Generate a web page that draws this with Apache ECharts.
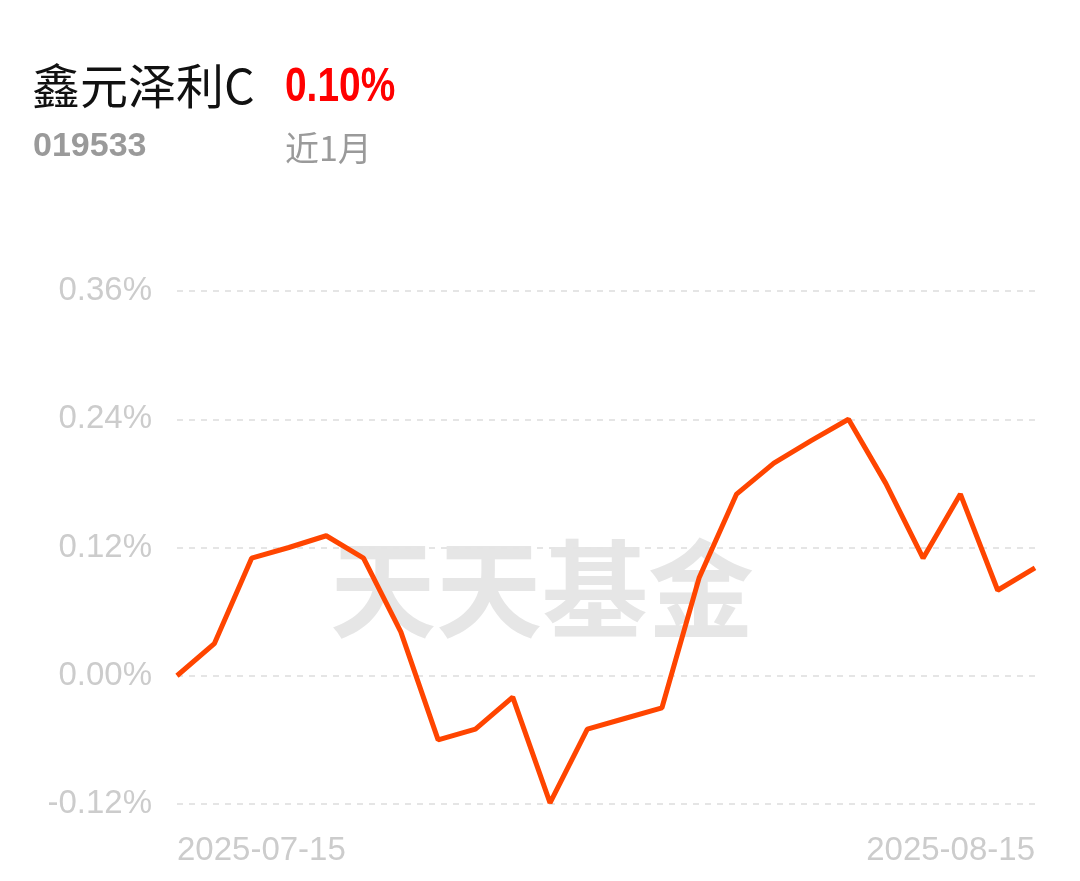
<!DOCTYPE html>
<html>
<head>
<meta charset="utf-8">
<script src="https://cdn.jsdelivr.net/npm/echarts@6/dist/echarts.min.js"></script>
<style>
html,body{margin:0;padding:0;background:#fff;}
#c{width:1080px;height:881px;}
</style>
</head>
<body>
<div id="c"></div>
<script>
const dates = ['2025-07-15','2025-07-16','2025-07-17','2025-07-18','2025-07-21','2025-07-22','2025-07-23','2025-07-24','2025-07-25','2025-07-28','2025-07-29','2025-07-30','2025-07-31','2025-08-01','2025-08-04','2025-08-05','2025-08-06','2025-08-07','2025-08-08','2025-08-11','2025-08-12','2025-08-13','2025-08-14','2025-08-15'];
const values = [0.00,0.030,0.110,0.120,0.131,0.110,0.041,-0.060,-0.050,-0.020,-0.119,-0.050,-0.040,-0.030,0.092,0.170,0.199,0.220,0.240,0.180,0.110,0.170,0.080,0.101];
const yTicks = [-0.12,0.00,0.12,0.24,0.36];
const fundName = '鑫元泽利C';
const fundCode = '019533';
const changeText = '0.10%';
const periodText = '近1月';
const watermark = '天天基金';

const chart = echarts.init(document.getElementById('c'));
chart.setOption({
  backgroundColor:'#fff',
  animation:false,
  graphic:[
    {type:'text',left:32,top:62,style:{text:fundName,font:'48px "Noto Sans CJK SC"',fill:'#111'}},
    {type:'text',x:285,y:64,scaleX:0.81,style:{text:changeText,font:'bold 48px "Liberation Sans"',fill:'#ff0000'}},
    {type:'text',left:33,top:130,style:{text:fundCode,font:'bold 34px "Liberation Sans"',fill:'#9a9a9a'}},
    {type:'text',left:285,top:131,style:{text:periodText,font:'34px "Noto Sans CJK SC"',fill:'#9a9a9a'}},
    {type:'text',left:330,top:536,z:-1,style:{text:watermark,font:'bold 106px "Noto Sans CJK SC"',fill:'#e6e6e6'}}
  ],
  grid:{left:177,right:45,top:291,bottom:77,containLabel:false},
  xAxis:{
    type:'category',
    data:dates,
    boundaryGap:false,
    axisLine:{show:false},
    axisTick:{show:false},
    splitLine:{show:false},
    axisLabel:{
      color:'#cccccc',
      fontSize:33,
      fontFamily:'Liberation Sans',
      margin:30,
      interval:function(i){return i===0||i===dates.length-1;},
      alignMinLabel:'left',
      alignMaxLabel:'right'
    }
  },
  yAxis:{
    type:'value',
    min:yTicks[0],
    max:yTicks[yTicks.length-1],
    interval:0.12,
    axisLine:{show:false},
    axisTick:{show:false},
    axisLabel:{
      color:'#cccccc',
      fontSize:33,
      fontFamily:'Liberation Sans',
      margin:25,
      padding:[10,0,0,0],
      formatter:function(v){return v.toFixed(2)+'%';}
    },
    splitLine:{lineStyle:{color:'#e5e5e5',type:[6,6],width:2}}
  },
  series:[{
    type:'line',
    data:values,
    symbol:'none',
    lineStyle:{color:'#ff4500',width:5},
    z:5
  }]
});
</script>
</body>
</html>
